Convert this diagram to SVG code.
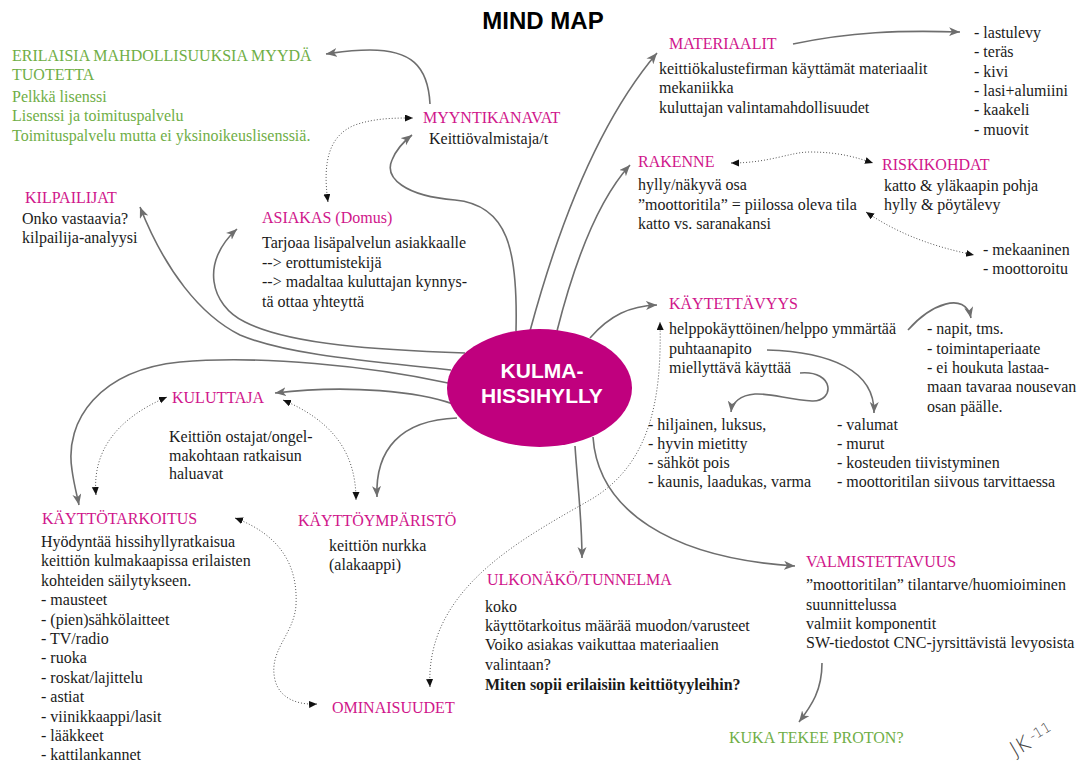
<svg xmlns="http://www.w3.org/2000/svg" width="1087" height="764" viewBox="0 0 1087 764">
  <defs>
    <style>
      text { font-family: "Liberation Serif", "Times New Roman", serif; font-size: 16px; fill: #1a1a1a; }
      .title { font-family: "Liberation Sans", Arial, sans-serif; font-weight: bold; font-size: 24px; fill: #000; }
      .head { fill: #d0168b; }
      .green { fill: #6fae46; }
      .core { font-family: "Liberation Sans", Arial, sans-serif; font-weight: bold; font-size: 21px; fill: #fff; }
      .bold { font-weight: bold; }
      .sig { font-family: "DejaVu Sans", sans-serif; font-size: 21px; fill: #444; font-weight: 200; }
      .solid { fill: none; stroke: #6e6e6e; stroke-width: 1.6; marker-end: url(#arr); }
      .dots { fill: none; stroke: #555; stroke-width: 1; stroke-dasharray: 1 2; marker-start: url(#dotarr); marker-end: url(#dotarr); }
    </style>
    <marker id="arr" markerUnits="userSpaceOnUse" markerWidth="12" markerHeight="10" refX="11" refY="4.5" orient="auto">
      <path d="M0,0 L11,4.5 L0,9 L3,4.5 z" fill="#6e6e6e"/>
    </marker>
    <marker id="dotarr" markerUnits="userSpaceOnUse" markerWidth="10" markerHeight="8" refX="8" refY="3.5" orient="auto-start-reverse">
      <path d="M0,0 L8,3.5 L0,7 z" fill="#111"/>
    </marker>
  </defs>

  <rect width="1087" height="764" fill="#fff"/>

  <text class="title" x="543" y="29" text-anchor="middle">MIND MAP</text>

  <!-- connectors -->
  <g id="connectors">
    <path class="solid" d="M 430 104 C 428 65, 410 50, 370 50 C 350 50, 340 52, 326 54"/>
    <path class="solid" d="M 516 331 C 518 250, 508 205, 455 200 C 405 196, 384 178, 392 160 C 396 150, 403 142, 412 135"/>
    <path class="solid" d="M 530 331 C 560 220, 600 120, 657 53"/>
    <path class="solid" d="M 557 331 C 575 260, 598 200, 630 165"/>
    <path class="solid" d="M 590 338 C 610 315, 630 306, 657 305"/>
    <path class="solid" d="M 575 446 C 578 490, 582 520, 582 558"/>
    <path class="solid" d="M 593 437 C 598 510, 670 558, 795 566"/>
    <path class="solid" d="M 822 663 C 822 690, 812 705, 799 722"/>
    <path class="solid" d="M 465 353 C 380 350, 290 345, 245 322 C 210 305, 200 262, 237 229"/>
    <path class="solid" d="M 451 370 C 380 362, 290 356, 240 335 C 200 315, 165 270, 140 207"/>
    <path class="solid" d="M 448 383 C 370 366, 260 355, 180 362 C 100 370, 64 420, 72 470 C 74 485, 77 495, 79 505"/>
    <path class="solid" d="M 453 404 C 420 392, 350 384, 275 393"/>
    <path class="solid" d="M 457 418 C 400 420, 375 450, 377 497"/>
    <path class="solid" d="M 793 44 C 850 32, 900 30, 960 32"/>
    <path class="solid" d="M 908 330 C 930 305, 965 290, 971 318"/>
    <path class="solid" d="M 800 373 C 835 370, 835 402, 812 401 C 790 400, 770 393, 755 394 C 740 395, 732 403, 731 412"/>
    <path class="solid" d="M 767 350 C 830 352, 875 370, 874 413"/>

    <path class="dots" d="M 328 202 C 322 160, 330 135, 355 125 C 375 118, 395 118, 413 118"/>
    <path class="dots" d="M 731 163 C 770 163, 790 152, 810 152 C 840 152, 858 158, 873 163"/>
    <path class="dots" d="M 866 212 C 900 235, 935 247, 974 255"/>
    <path class="dots" d="M 96 495 C 92 450, 118 418, 167 397"/>
    <path class="dots" d="M 283 400 C 330 420, 356 450, 356 500"/>
    <path class="dots" d="M 235 518 C 280 535, 298 565, 296 605 C 294 635, 268 650, 275 680 C 280 700, 300 705, 317 704"/>
    <path class="dots" d="M 430 687 C 425 590, 520 540, 590 500 C 650 465, 662 400, 660 322"/>
  </g>

  <!-- central topic -->
  <g id="center">
    <ellipse cx="539.5" cy="388" rx="92.5" ry="59" fill="#c0007e"/>
    <text class="core" x="542" y="378" text-anchor="middle">KULMA-</text>
    <text class="core" x="542" y="403" text-anchor="middle">HISSIHYLLY</text>
  </g>

  <g id="myyntitavat">
    <text class="green" x="12" y="61">ERILAISIA MAHDOLLISUUKSIA MYYDÄ</text>
    <text class="green" x="12" y="80">TUOTETTA</text>
    <text class="green" x="12" y="102">Pelkkä lisenssi</text>
    <text class="green" x="12" y="121">Lisenssi ja toimituspalvelu</text>
    <text class="green" x="12" y="141">Toimituspalvelu mutta ei yksinoikeuslisenssiä.</text>
  </g>

  <g id="myyntikanavat">
    <text class="head" x="423" y="123">MYYNTIKANAVAT</text>
    <text x="429" y="144">Keittiövalmistaja/t</text>
  </g>

  <g id="kilpailijat">
    <text class="head" x="25" y="203">KILPAILIJAT</text>
    <text x="22" y="224">Onko vastaavia?</text>
    <text x="22" y="243">kilpailija-analyysi</text>
  </g>

  <g id="asiakas">
    <text class="head" x="262" y="223">ASIAKAS (Domus)</text>
    <text x="262" y="248">Tarjoaa lisäpalvelun asiakkaalle</text>
    <text x="262" y="268">--&gt; erottumistekijä</text>
    <text x="262" y="287">--&gt; madaltaa kuluttajan kynnys-</text>
    <text x="262" y="307">tä ottaa yhteyttä</text>
  </g>

  <g id="materiaalit">
    <text class="head" x="669" y="49">MATERIAALIT</text>
    <text x="659" y="74">keittiökalustefirman käyttämät materiaalit</text>
    <text x="659" y="93">mekaniikka</text>
    <text x="659" y="113">kuluttajan valintamahdollisuudet</text>
  </g>

  <g id="materiaalilista">
    <text x="974" y="38">- lastulevy</text>
    <text x="974" y="57">- teräs</text>
    <text x="974" y="77">- kivi</text>
    <text x="974" y="96">- lasi+alumiini</text>
    <text x="974" y="115">- kaakeli</text>
    <text x="974" y="135">- muovit</text>
  </g>

  <g id="rakenne">
    <text class="head" x="638" y="167">RAKENNE</text>
    <text x="638" y="190">hylly/näkyvä osa</text>
    <text x="638" y="210">”moottoritila” = piilossa oleva tila</text>
    <text x="638" y="229">katto vs. saranakansi</text>
  </g>

  <g id="riskikohdat">
    <text class="head" x="882" y="170">RISKIKOHDAT</text>
    <text x="884" y="191">katto &amp; yläkaapin pohja</text>
    <text x="884" y="210">hylly &amp; pöytälevy</text>
  </g>

  <g id="mekanismi">
    <text x="983" y="255">- mekaaninen</text>
    <text x="983" y="274">- moottoroitu</text>
  </g>

  <g id="kaytettavyys">
    <text class="head" x="669" y="309">KÄYTETTÄVYYS</text>
    <text x="669" y="334">helppokäyttöinen/helppo ymmärtää</text>
    <text x="669" y="354">puhtaanapito</text>
    <text x="669" y="373">miellyttävä käyttää</text>
  </g>

  <g id="helppous">
    <text x="927" y="334">- napit, tms.</text>
    <text x="927" y="354">- toimintaperiaate</text>
    <text x="927" y="373">- ei houkuta lastaa-</text>
    <text x="927" y="392">maan tavaraa nousevan</text>
    <text x="927" y="412">osan päälle.</text>
  </g>

  <g id="miellyttavyys">
    <text x="648" y="430">- hiljainen, luksus,</text>
    <text x="648" y="449">- hyvin mietitty</text>
    <text x="648" y="468">- sähköt pois</text>
    <text x="648" y="487">- kaunis, laadukas, varma</text>
  </g>

  <g id="puhtaanapito">
    <text x="837" y="430">- valumat</text>
    <text x="837" y="449">- murut</text>
    <text x="837" y="468">- kosteuden tiivistyminen</text>
    <text x="837" y="487">- moottoritilan siivous tarvittaessa</text>
  </g>

  <g id="kuluttaja">
    <text class="head" x="172" y="403">KULUTTAJA</text>
    <text x="169" y="442">Keittiön ostajat/ongel-</text>
    <text x="169" y="461">makohtaan ratkaisun</text>
    <text x="169" y="479">haluavat</text>
  </g>

  <g id="kayttotarkoitus">
    <text class="head" x="42" y="524">KÄYTTÖTARKOITUS</text>
    <text x="41" y="547">Hyödyntää hissihyllyratkaisua</text>
    <text x="41" y="566">keittiön kulmakaapissa erilaisten</text>
    <text x="41" y="586">kohteiden säilytykseen.</text>
    <text x="41" y="605">- mausteet</text>
    <text x="41" y="625">- (pien)sähkölaitteet</text>
    <text x="41" y="644">- TV/radio</text>
    <text x="41" y="663">- ruoka</text>
    <text x="41" y="683">- roskat/lajittelu</text>
    <text x="41" y="702">- astiat</text>
    <text x="41" y="722">- viinikkaappi/lasit</text>
    <text x="41" y="741">- lääkkeet</text>
    <text x="41" y="760">- kattilankannet</text>
  </g>

  <g id="kayttoymparisto">
    <text class="head" x="298" y="526">KÄYTTÖYMPÄRISTÖ</text>
    <text x="329" y="551">keittiön nurkka</text>
    <text x="329" y="570">(alakaappi)</text>
  </g>

  <g id="ominaisuudet">
    <text class="head" x="332" y="713">OMINAISUUDET</text>
  </g>

  <g id="ulkonako">
    <text class="head" x="487" y="585">ULKONÄKÖ/TUNNELMA</text>
    <text x="485" y="612">koko</text>
    <text x="485" y="631">käyttötarkoitus määrää muodon/varusteet</text>
    <text x="485" y="650">Voiko asiakas vaikuttaa materiaalien</text>
    <text x="485" y="670">valintaan?</text>
    <text class="bold" x="485" y="690">Miten sopii erilaisiin keittiötyyleihin?</text>
  </g>

  <g id="valmistettavuus">
    <text class="head" x="806" y="567">VALMISTETTAVUUS</text>
    <text x="806" y="590">”moottoritilan” tilantarve/huomioiminen</text>
    <text x="806" y="610">suunnittelussa</text>
    <text x="806" y="629">valmiit komponentit</text>
    <text x="806" y="648">SW-tiedostot CNC-jyrsittävistä levyosista</text>
  </g>

  <g id="proto">
    <text class="green" x="729" y="743">KUKA TEKEE PROTON?</text>
  </g>

  <!-- author initials -->
  <text class="sig" transform="translate(1015 757) rotate(-30)">JK<tspan font-size="14" dx="3" dy="-5">-11</tspan></text>
</svg>
